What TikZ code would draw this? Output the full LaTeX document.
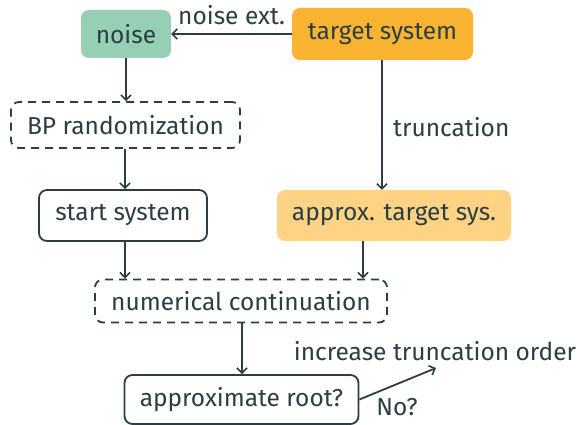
\documentclass[tikz,border=0pt]{standalone}
\usepackage{fontspec}
\setmainfont{Fira Sans}
\usetikzlibrary{arrows.meta}
\definecolor{ink}{HTML}{2B3E44}
\definecolor{greenfill}{HTML}{97CFB5}
\definecolor{orangefill}{HTML}{FBB431}
\definecolor{lightorange}{HTML}{FED384}
\tikzset{
  txt/.style={font=\fontsize{24.5}{29}\selectfont},
  box/.style={txt, rounded corners=8pt, line width=1.8pt, draw=ink, text=ink, inner sep=0pt},
  dbox/.style={box, dash pattern=on 8pt off 6pt},
  fbox/.style={txt, rounded corners=8pt, inner sep=0pt, text=ink},
  lab/.style={txt, text=ink, inner sep=0pt},
  arr/.style={draw=ink, line width=1.8pt, -{Straight Barb[length=5pt,width=10pt,line width=1.6pt]}},
}
\begin{document}
\begin{tikzpicture}[x=1pt,y=-1pt]
\useasboundingbox (0,0) rectangle (583,425);
\node[fbox, fill=greenfill, minimum width=90pt, minimum height=48pt] (noise) at (126,34) {noise};
\node[fbox, fill=orangefill, minimum width=181pt, minimum height=52pt] (target) at (382.5,34) {target system};
\node[dbox, minimum width=229pt, minimum height=46pt] (bp) at (125.5,125) {BP randomization};
\node[box, minimum width=168pt, minimum height=51pt] (start) at (123,215.5) {start system};
\node[fbox, fill=lightorange, minimum width=234pt, minimum height=51pt] (approx) at (394,215.5) {approx. target sys.};
\node[dbox, minimum width=292pt, minimum height=43pt] (nc) at (241,301) {numerical continuation};
\node[box, minimum width=234pt, minimum height=49pt] (root) at (241.5,399.5) {approximate root?};
\coordinate (inc) at (436,368);
\node[lab, anchor=base west] (noiselab) at (178,25) {noise ext.};
\node[lab, anchor=west] (trunclab) at (393,127) {truncation};
\node[lab] (inclab) at (435,351) {increase truncation order};
\node[lab] (nolab) at (397,407) {No?};
\draw[arr] (target.west) -- (noise.east);
\draw[arr] (noise.south) -- (bp.north -| noise.south);
\draw[arr] (bp.south -| 125,0) -- (start.north -| 125,0);
\draw[arr] (target.south -| 382,0) -- (approx.north -| 382,0);
\draw[arr] (start.south -| 125,0) -- (nc.north -| 125,0);
\draw[arr] (approx.south -| 363,0) -- (nc.north -| 363,0);
\draw[arr] (nc.south -| 242,0) -- (root.north -| 242,0);
\draw[arr] (root.east) -- (inc);
\end{tikzpicture}
\end{document}
